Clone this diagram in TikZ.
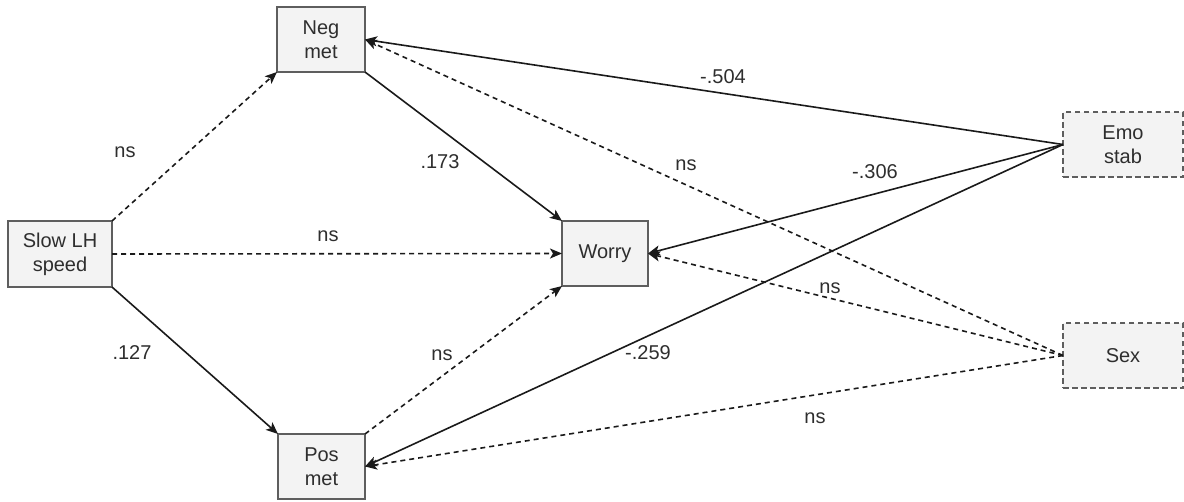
\documentclass[tikz,border=0pt]{standalone}
\usepackage{fontspec}
\setmainfont{Liberation Sans}
\usetikzlibrary{arrows.meta}
\definecolor{boxfill}{HTML}{F3F3F3}
\definecolor{boxline}{HTML}{5E5E5E}
\definecolor{txt}{HTML}{2E2E2E}
\definecolor{edge}{HTML}{1A1A1A}
\tikzset{
  var/.style={draw=boxline, fill=boxfill, line width=1.2pt, outer sep=0pt,
    inner sep=0pt, align=center, text=txt,
    font=\fontsize{20}{24}\selectfont},
  ctrl/.style={var, dashed, dash pattern=on 5.5pt off 3.5pt},
  path/.style={draw=edge, line width=1.6pt,
    -{Stealth[length=12pt,width=10pt,inset=3pt]}},
  nspath/.style={path, dash pattern=on 5pt off 4pt},
  coef/.style={text=txt, inner sep=1pt, font=\fontsize{20}{24}\selectfont}
}
\begin{document}
\begin{tikzpicture}[x=1pt,y=-1pt]
\useasboundingbox (0,0) rectangle (1184,501);

% variables
\node[var, minimum width=104pt, minimum height=66pt] (slow) at (60,254) {Slow LH\\speed};
\node[var, minimum width=88pt, minimum height=65pt] (neg) at (321,39.5) {Neg\\met};
\node[var, minimum width=86pt, minimum height=65pt] (worry) at (605,253.5) {Worry};
\node[var, minimum width=87pt, minimum height=65pt] (pos) at (321.5,466.5) {Pos\\met};
\node[ctrl, minimum width=120pt, minimum height=65pt] (emo) at (1123,144.5) {Emo\\stab};
\node[ctrl, minimum width=120pt, minimum height=65pt] (sex) at (1123,355.5) {Sex};

% paths from slow LH speed through the metacognition nodes
\draw[nspath] (slow.north east) -- (neg.south west);
\draw[nspath] (slow.east) -- (worry.west);
\draw[path] (slow.south east) -- (pos.north west);
\draw[path] (neg.south east) -- (worry.north west);
\draw[nspath] (pos.north east) -- (worry.south west);

% covariate paths
\draw[path] (emo.west) -- (neg.east);
\draw[path] (emo.west) -- (worry.east);
\draw[path] (emo.west) -- (pos.east);
\draw[nspath] (sex.west) -- (neg.east);
\draw[nspath] (sex.west) -- (worry.east);
\draw[nspath] (sex.west) -- (pos.east);

% coefficients
\node[coef] (c1) at (125,152) {ns};
\node[coef] (c2) at (328,236) {ns};
\node[coef] (c3) at (132,353) {.127};
\node[coef] (c4) at (440,162) {.173};
\node[coef] (c5) at (442,355) {ns};
\node[coef] (c6) at (723,77) {-.504};
\node[coef] (c7) at (686,165) {ns};
\node[coef] (c8) at (875,172) {-.306};
\node[coef] (c9) at (830,288) {ns};
\node[coef] (c10) at (648,353) {-.259};
\node[coef] (c11) at (815,418) {ns};
\end{tikzpicture}
\end{document}
